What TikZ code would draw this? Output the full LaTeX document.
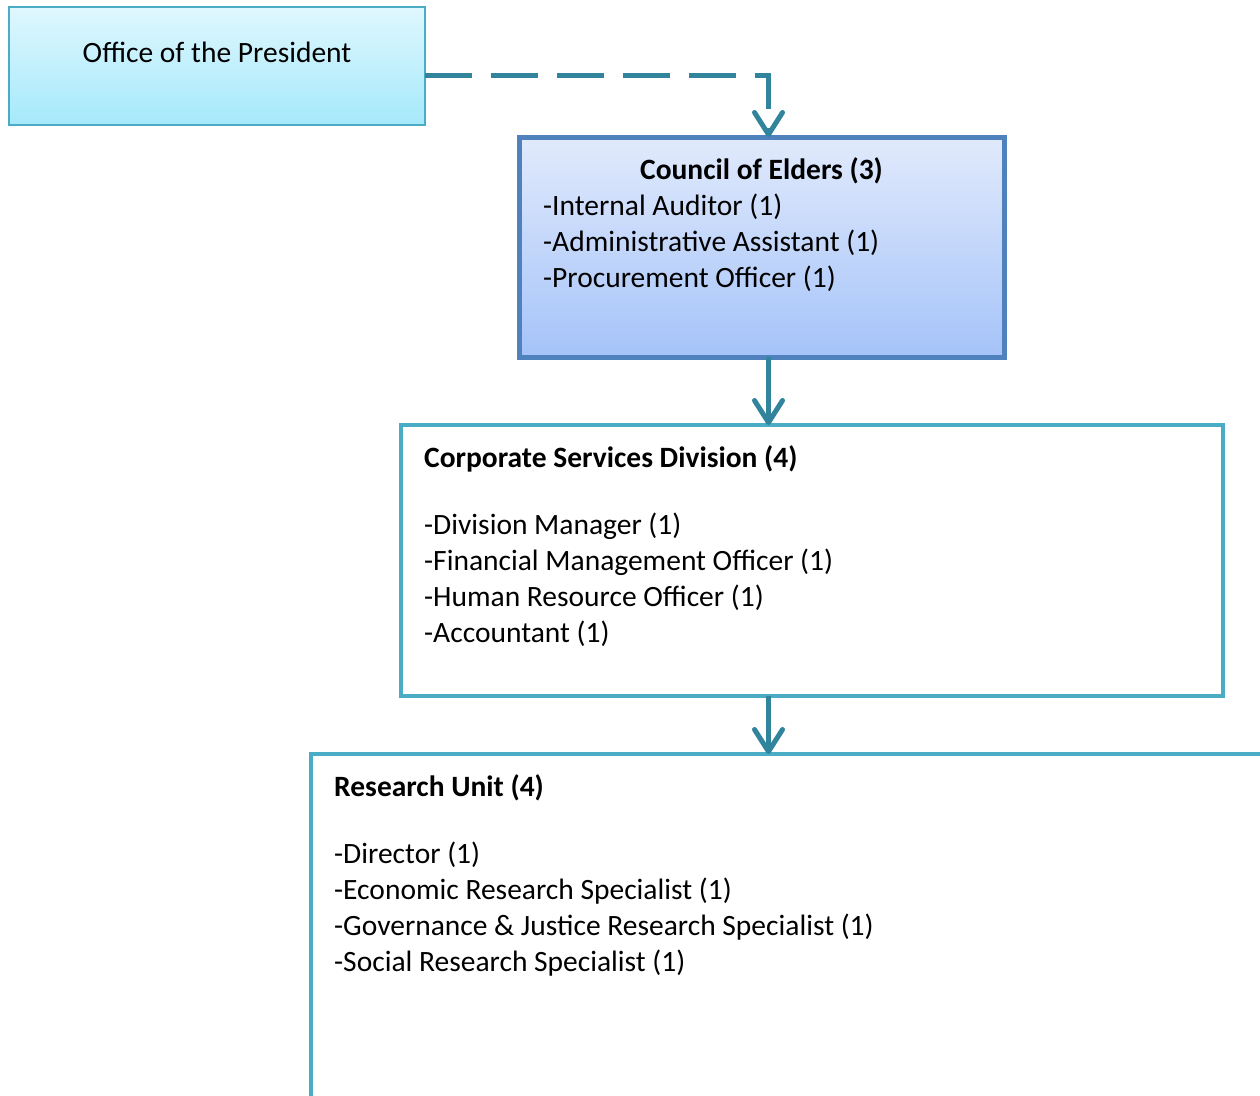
\documentclass[tikz,border=0pt]{standalone}
\usepackage{fontspec}
\setmainfont{Carlito}
\usetikzlibrary{arrows.meta}

\definecolor{linkteal}{RGB}{49,132,155}
\definecolor{aqualine}{RGB}{75,172,198}
\definecolor{aquatop}{RGB}{223,247,254}
\definecolor{aquabot}{RGB}{165,233,251}
\definecolor{blueline}{RGB}{79,129,189}
\definecolor{bluetop}{RGB}{225,234,252}
\definecolor{bluebot}{RGB}{165,195,249}

\begin{document}
\begin{tikzpicture}[x=1pt, y=-1pt,
  txt/.style={inner sep=0pt, font=\fontsize{29.5}{36}\selectfont, align=left},
  link/.style={draw=linkteal, line width=5pt, -{Straight Barb[length=22pt, width=28pt, line cap=round, line join=round]}}]
  \useasboundingbox (0,0) rectangle (1260,1095);
  \clip (0,0) rectangle (1260,1095);

  % Boxes
  \node[draw=aqualine, line width=2pt, outer sep=0pt, top color=aquatop, bottom color=aquabot, minimum width=416pt, minimum height=118pt, anchor=north west] (pres) at (9,7) {};
  \node[draw=blueline, line width=5pt, outer sep=0pt, top color=bluetop, bottom color=bluebot, minimum width=485pt, minimum height=220pt, anchor=north west] (council) at (519,137) {};
  \node[draw=aqualine, line width=4pt, outer sep=0pt, fill=white, minimum width=822pt, minimum height=271pt, anchor=north west] (corp) at (401,425) {};
  \node[draw=aqualine, line width=4pt, outer sep=0pt, fill=white, minimum width=1100pt, minimum height=500pt, anchor=north west] (research) at (311,754) {};

  % Texts
  \node[txt, anchor=base] (presname) at ([shift={(0,55)}]pres.north) {Office of the President};
  \node[txt, anchor=base, font=\fontsize{29.5}{36}\selectfont\bfseries] (counciltitle) at ([shift={(0,42)}]council.north) {Council of Elders (3)};
  \node[txt, anchor=north west] (councilstaff) at ([shift={(24,57)}]council.north west) {-Internal Auditor (1)\\-Administrative Assistant (1)\\-Procurement Officer (1)};
  \node[txt, anchor=base west, font=\fontsize{29.5}{36}\selectfont\bfseries] (corptitle) at ([shift={(23,42)}]corp.north west) {Corporate Services Division (4)};
  \node[txt, anchor=north west] (corpstaff) at ([shift={(23,88)}]corp.north west) {-Division Manager (1)\\-Financial Management Officer (1)\\-Human Resource Officer (1)\\-Accountant (1)};
  \node[txt, anchor=base west, font=\fontsize{29.5}{36}\selectfont\bfseries] (restitle) at ([shift={(23,42)}]research.north west) {Research Unit (4)};
  \node[txt, anchor=north west] (resstaff) at ([shift={(23,88)}]research.north west) {-Director (1)\\-Economic Research Specialist (1)\\-Governance \& Justice Research Specialist (1)\\-Social Research Specialist (1)};

  % Connectors
  \draw[link, dash pattern=on 47pt off 19pt] ([shift={(0,9)}]pres.east) -| ([xshift=7pt]council.north);
  \draw[link] ([xshift=7pt]council.south) -- ([xshift=7pt]council.south |- corp.north);
  \draw[link] ([xshift=7pt]council.south |- corp.south) -- ([xshift=7pt]council.south |- research.north);
\end{tikzpicture}
\end{document}
